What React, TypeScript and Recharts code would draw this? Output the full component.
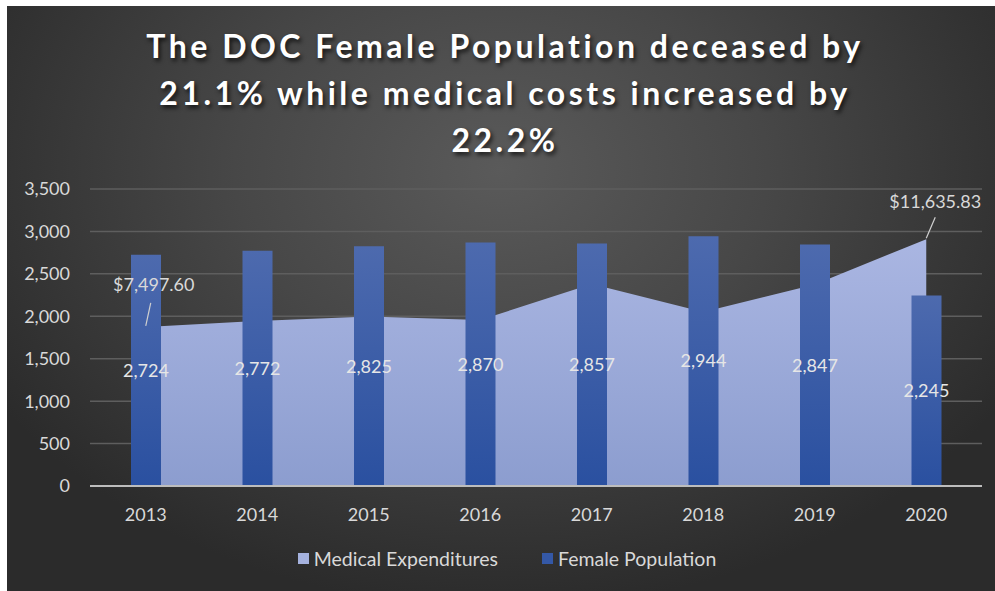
import { ComposedChart, Area, Bar, XAxis, YAxis, CartesianGrid, LabelList } from 'recharts'

const years = ['2013', '2014', '2015', '2016', '2017', '2018', '2019', '2020']
const femalePopulation = [2724, 2772, 2825, 2870, 2857, 2944, 2847, 2245]
// medical expenditures as plotted against the shared axis
const medicalExpenditures = [1874, 1945, 1998, 1956, 2380, 2050, 2376, 2909]
const medicalLabels = ['$7,497.60', '', '', '', '', '', '', '$11,635.83']
const yTicks = [0, 500, 1000, 1500, 2000, 2500, 3000, 3500]

const titleLines = [
  'The DOC Female Population deceased by',
  '21.1% while medical costs increased by',
  '22.2%',
]

const data = years.map((year, i) => ({
  year,
  population: femalePopulation[i],
  medical: medicalExpenditures[i],
  medicalLabel: medicalLabels[i],
}))

const FONT = 'Lato, "Open Sans", sans-serif'
const TEXT = '#d9d9d9'

function MedicalLabel(props: any) {
  const { x, y, index } = props
  const label = medicalLabels[index]
  if (!label) return null
  const first = index === 0
  const dx = first ? 5 : 9
  const dy = first ? -24 : -22
  const tx = first ? x + 8 : x + 9
  const ty = first ? y - 43 : y - 38
  return (
    <g>
      <line x1={x} y1={y - 1} x2={x + dx} y2={y + dy} stroke="#d0d0d0" strokeWidth={1.2} />
      <text x={tx} y={ty} textAnchor="middle" dominantBaseline="central" fill={TEXT} fontSize={18} fontFamily={FONT}>
        {label}
      </text>
    </g>
  )
}

export default function App() {
  return (
    <div
      style={{
        position: 'absolute',
        left: 7,
        top: 6,
        width: 988,
        height: 585,
        background: 'radial-gradient(ellipse 60% 75% at 50% 28%, #5a5a5a 0%, #474747 45%, #2b2b2b 100%)',
        fontFamily: FONT,
        overflow: 'hidden',
      }}
    >
      <div
        style={{
          position: 'absolute',
          top: 16,
          left: 4,
          width: 988,
          textAlign: 'center',
          color: '#ffffff',
          fontWeight: 700,
          fontSize: 32,
          lineHeight: '47px',
          letterSpacing: 3.5,
          textShadow: '2px 3px 4px rgba(0,0,0,0.7)',
        }}
      >
        {titleLines.map((line) => (
          <div key={line}>{line}</div>
        ))}
      </div>

      <ComposedChart
        width={988}
        height={585}
        data={data}
        margin={{ top: 183, right: 13, bottom: 75, left: 13 }}
      >
        <defs>
          <linearGradient id="barFill" x1="0" y1="0" x2="0" y2="1">
            <stop offset="0%" stopColor="#4d6aae" />
            <stop offset="100%" stopColor="#2a50a0" />
          </linearGradient>
          <linearGradient id="areaFill" x1="0" y1="0" x2="0" y2="1">
            <stop offset="0%" stopColor="#aab6e2" />
            <stop offset="100%" stopColor="#8c9dcf" />
          </linearGradient>
        </defs>
        <CartesianGrid vertical={false} stroke="#5e5e5e" strokeWidth={1.5} />
        <XAxis
          dataKey="year"
          axisLine={{ stroke: '#bdbdbd', strokeWidth: 2 }}
          tickLine={false}
          tickSize={0}
          tickMargin={22}
          height={30}
          tick={{ fill: TEXT, fontSize: 18, fontFamily: FONT }}
        />
        <YAxis
          domain={[0, 3500]}
          ticks={yTicks}
          width={70}
          axisLine={false}
          tickLine={false}
          tickSize={0}
          tickMargin={20}
          tickFormatter={(v) => Number(v).toLocaleString('en-US')}
          tick={{ fill: TEXT, fontSize: 18, fontFamily: FONT }}
        />
        <Area
          dataKey="medical"
          name="Medical Expenditures"
          type="linear"
          stroke="none"
          fill="url(#areaFill)"
          fillOpacity={1}
          isAnimationActive={false}
        >
          <LabelList dataKey="medicalLabel" content={MedicalLabel} />
        </Area>
        <Bar dataKey="population" name="Female Population" fill="url(#barFill)" barSize={30} isAnimationActive={false}>
          <LabelList
            dataKey="population"
            position="center"
            formatter={(v: any) => Number(v).toLocaleString('en-US')}
            style={{ fill: '#e6e6e6', fontSize: 18, fontFamily: FONT }}
          />
        </Bar>
      </ComposedChart>

      <div
        style={{
          position: 'absolute',
          top: 541,
          left: 6,
          width: 988,
          display: 'flex',
          justifyContent: 'center',
          gap: 44,
          color: TEXT,
          fontSize: 19.5,
        }}
      >
        <span style={{ display: 'flex', alignItems: 'center', gap: 5 }}>
          <span style={{ width: 11, height: 11, background: '#a5b2de', display: 'inline-block' }} />
          Medical Expenditures
        </span>
        <span style={{ display: 'flex', alignItems: 'center', gap: 5 }}>
          <span style={{ width: 11, height: 11, background: '#3458a6', display: 'inline-block' }} />
          Female Population
        </span>
      </div>
    </div>
  )
}
